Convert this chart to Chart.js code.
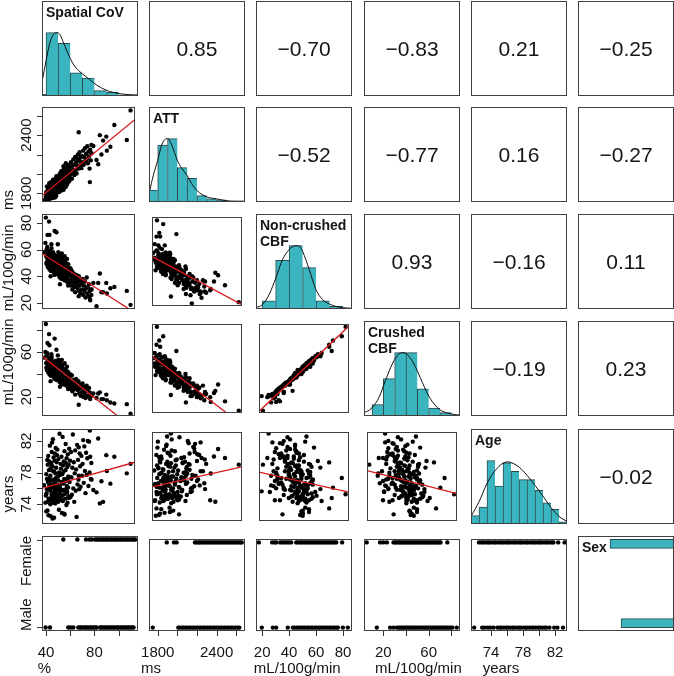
<!DOCTYPE html>
<html><head><meta charset="utf-8">
<script src="https://cdn.jsdelivr.net/npm/chart.js@4.4.1/dist/chart.umd.min.js"></script>
<style>
html,body{margin:0;padding:0;background:#fff;}
body{width:674px;height:676px;position:relative;overflow:hidden;}
canvas{position:absolute;}
</style>
</head><body>
<script>
// ---------- DATA ----------
const varNames = ['Spatial CoV','ATT','Non-crushed CBF','Crushed CBF','Age','Sex'];
const diagTitles = [['Spatial CoV'],['ATT'],['Non-crushed','CBF'],['Crushed','CBF'],['Age'],['Sex']];
const units = ['%','ms','mL/100g/min','mL/100g/min','years',''];
const axisMin = [36.7, 1711, 15.4, 2.9, 71.5, 0.96];
const axisMax = [116, 2690, 86.7, 87.7, 83.5, 2.04];
const tickValues = [[40,60,80,100],[1800,2000,2200,2400,2600],[20,40,60,80],[20,40,60,80],[74,76,78,80,82],[1,2]];
const tickLabels = [['40','','80',''],['1800','','','2400',''],['20','40','60','80'],['20','','60',''],['74','','78','','82'],['Male','Female']];

// per-subject values (%, ms, mL/100g/min, mL/100g/min, years)
const scov = [38.5,39.6,40.0,42.7,41.4,43.0,47.5,49.0,44.7,50.2,
40.3,40.6,40.9,41.2,41.5,41.8,42.0,42.3,42.6,42.9,
43.1,43.4,43.6,43.9,44.1,44.3,44.6,44.8,45.0,45.2,
45.4,45.6,45.8,46.0,46.2,46.4,46.6,46.8,47.0,47.2,
47.4,47.6,47.8,48.0,48.2,48.4,48.6,48.8,49.0,49.2,
49.4,49.6,49.8,40.4,41.0,41.6,42.2,42.8,43.3,43.8,
44.4,44.9,45.3,45.7,46.1,46.5,47.1,47.5,48.1,48.5,
49.1,49.5,49.9,44.0,50.1,50.3,50.5,50.7,50.9,51.1,
51.3,51.5,51.7,51.9,52.1,52.3,52.5,52.7,52.9,53.1,
53.3,53.5,53.7,53.9,54.1,54.3,54.5,54.7,54.9,55.1,
55.3,55.5,55.7,55.9,56.1,56.3,56.5,56.7,56.9,57.1,
57.3,57.5,57.7,57.9,58.1,58.3,58.5,58.7,58.9,59.1,
59.3,59.5,59.7,59.9,50.6,52.0,53.6,55.0,56.0,57.0,
58.0,59.0,60.2,60.6,61.0,61.4,61.8,62.2,62.6,63.0,
63.4,63.8,64.2,64.6,65.0,65.4,65.8,66.2,66.6,67.0,
67.4,67.8,68.4,68.8,69.2,69.6,68.0,68.0,70.3,70.8,
71.3,71.8,72.3,72.8,73.3,73.8,74.3,74.8,75.3,75.8,
76.3,76.8,77.3,77.8,78.3,78.8,77.5,79.0,88.8,86.0,
83.2,80.5,84.6,87.4,98.4,92.0,91.5,95.0,109.0,112.2];
const att = [1725,1740,1765,1833,1760,1800,1790,1976,1780,1850,
1812,1760,1870,1795,1745,1830,1790,1858,1735,1905,
1812,1770,1842,1880,1798,1750,1865,1820,1895,1762,
1838,1910,1802,1775,1860,1925,1815,1848,1788,1892,
1830,1758,1870,1945,1805,1842,1900,1780,1862,1918,
1825,1885,1960,1790,1822,1765,1848,1780,1835,1795,
1915,1788,1870,1752,1940,1833,1808,1878,1852,1768,
1935,1810,1890,1860,1880,1925,1842,1968,1860,1902,
1815,1990,1875,1930,1848,2010,1895,1955,1828,1918,
2030,1870,1942,1985,1860,1925,2005,1890,1960,1838,
2045,1915,1975,1880,1948,2020,1902,1995,1865,1938,
2060,1920,1980,1890,2035,1955,2075,1912,2002,1940,
2090,1970,2025,1925,1905,1960,1885,2080,1905,2110,
1930,2055,1965,2070,1995,2120,2030,1950,2085,2010,
2150,2045,1990,2095,2175,2040,2120,2005,2160,2080,
2200,2055,2135,2225,2090,2170,2430,2080,2060,2185,
2120,2240,2095,2170,2265,2130,2205,2150,2285,2110,
2230,2180,2055,2250,2140,2300,1916,2213,2344,2400,
2144,2288,2100,2200,2505,2240,2385,2280,2350,2655];
const ncbf = [58,65,84,81,71,71,74,73,64,64,
55,60,49,62,52,57,48,58,54,53,
45,59,51,56,50,44,55,61,47,53,
49,57,46,52,58,50,43,54,48,56,
41,51,47,53,55,44,50,46,52,42,
49,55,45,50,54,47,50,56,48,53,
46,57,44,50,49,52,45,51,47,53,
48,43,51,40,50,44,55,47,41,52,
48,45,53,39,49,46,56,42,47,51,
38,45,50,43,54,40,48,44,52,46,
41,49,37,45,51,43,47,39,44,50,
42,46,36,48,44,40,47,38,43,49,
35,45,41,37,58,34,57,45,55,39,
53,33,42,36,46,33,40,44,30,38,
35,42,32,39,28,36,41,34,38,31,
36,40,29,33,37,27,40,25,35,30,
38,26,33,29,36,24,31,39,27,32,
25,34,29,22,30,26,23,30,28,42,
17.5,35,35,28,32,27,35,31,29,18.5];
const ccbf = [55,60,85,76,68,66,72,62,58,57,
50,57,44,59,47,52,42,55,50,46,
40,53,47,49,45,39,52,56,43,48,
41,51,44,46,50,42,38,49,44,47,
36,48,40,45,52,37,43,42,47,35,
45,48,38,46,51,43,44,53,41,50,
39,54,41,47,40,49,39,46,43,50,
40,39,44,34,45,38,50,41,35,47,
43,37,49,33,44,40,51,36,42,45,
31,41,43,37,48,35,41,39,45,42,
34,43,31,40,44,36,41,33,39,44,
35,40,30,43,37,34,40,32,37,42,
29,38,35,32,53,29,53,37,50,33,
47,27,37,30,40,27,33,39,25,32,
30,35,27,33,22,31,36,28,31,26,
29,34,23,27,31,21,30,13,29,24,
32,20,27,23,29,19,25,30,21,27,
20,28,24,18,23,21,20,21,18,24,
19,23,23,18,14,17,22,15,13.5,5];
const age = [76.4,74.2,75.1,77.3,73.2,79.4,76.0,74.6,78.7,75.8,
73.1,75.4,77.2,79.6,74.3,76.8,80.1,74.7,78.3,76.2,
74.6,81.4,75.8,77.6,72.5,76.5,79.2,74.9,80.6,76.1,
74.4,78.8,75.3,82.2,77.1,74.8,79.9,76.3,72.3,78.1,
75.6,80.4,76.7,74.1,77.9,81.1,75.1,78.6,74.5,79.3,
76.0,77.4,80.9,77.8,75.9,79.0,72.6,76.6,78.4,74.0,
77.0,75.2,81.8,72.2,78.2,74.2,76.9,79.5,75.5,77.3,
74.7,80.2,76.4,75.7,75.0,77.5,74.3,79.7,76.2,73.3,
78.0,75.4,82.9,74.6,77.7,76.0,79.1,74.9,78.5,75.7,
80.0,76.8,72.9,77.8,75.1,82.5,74.4,78.9,76.6,75.8,
79.4,72.8,77.2,80.7,75.3,76.9,74.7,78.3,81.6,75.9,
77.0,73.9,79.8,76.3,75.5,78.7,74.2,80.3,76.1,77.5,
75.0,79.0,74.8,81.0,77.0,76.4,74.5,78.1,72.7,79.2,
75.6,77.3,76.8,79.5,74.9,80.6,77.4,75.2,78.6,82.8,
76.0,79.3,74.3,77.9,80.8,75.7,78.4,72.4,81.5,76.5,
79.6,77.1,75.9,80.4,78.8,76.2,81.2,77.6,80.1,77.6,
79.1,82.1,76.7,81.3,78.2,75.4,80.5,77.7,79.8,82.0,
76.3,81.9,78.0,80.0,77.2,79.2,83.3,77.1,74.3,74.1,
75.5,75.8,82.3,76.9,80.0,78.2,80.2,76.6,77.9,79.1];

// values shown in the Sex row (Female = 2, Male = 1)
const femaleScov = [54.3,65.9,73.1,75.8,77.8,80.5,81.9,83.0,84.6,86.1,87.3,88.9,90.2,91.4,93.1,94.2,95.8,97.3,98.5,100.0,101.6,102.7,104.3,105.6,107.2,108.4,110.1,111.3,112.6,113.7];
const maleScov = [39.7,43.3,58.4,60.4,62.6,66.7,68.1,69.3,70.8,72.4,73.5,75.0,76.6,77.7,79.3,80.5,81.8,84.7,85.9,87.4,88.7,90.3,91.4,93.0,94.3,95.8,97.0,98.7,99.8,101.4,102.7,104.2,105.4,107.0,108.2,109.8,111.0,112.3];
const femaleAtt = [1892,1966,1993,2180,2196,2217,2231,2252,2266,2288,2303,2324,2338,2359,2374,2395,2409,2432,2446,2467,2481,2503,2517,2538,2553,2574,2588,2609,2623,2644,2657];
const maleAtt = [1749,2010,2024,2046,2061,2083,2097,2118,2133,2154,2168,2189,2204,2225,2239,2261,2275,2296,2311,2332,2346,2368,2382,2403,2418,2439,2453,2475,2489,2510,2525,2546,2560,2582,2596,2617,2632];
const femaleNcbf = [17.5,27.4,29.3,30.4,33.4,34.9,36.6,38.4,39.9,41.5,45.3,46.5,48.2,49.3,50.8,52.0,53.5,54.7,56.1,57.4,58.8,60.2,61.6,62.9,64.3,65.5,67.1,68.2,69.7,71.1,72.4,73.8,75.0,79.4];
const maleNcbf = [19.7,27.9,30.4,39.0,42.8,44.0,45.7,46.8,48.4,49.6,51.1,52.2,53.8,54.9,56.5,57.6,59.2,60.3,61.9,63.1,64.6,65.8,67.3,68.5,70.0,71.2,72.7,73.9,75.3,76.2,79.9,83.6];
const femaleCcbf = [5.3,17.1,19.9,23.1,29.0,30.5,31.8,33.4,34.6,36.2,37.4,38.9,40.2,41.7,43.0,44.6,45.7,47.4,48.5,50.2,51.3,53.0,54.1,55.8,56.9,58.6,59.7,61.4,62.5,64.2,65.3,67.0,68.1,69.6,70.5,76.5];
const maleCcbf = [14.2,26.0,29.0,32.0,33.5,34.8,36.3,37.6,39.1,40.4,41.9,43.2,44.7,46.0,47.5,48.8,50.3,51.6,53.1,54.4,55.9,57.2,58.7,60.0,61.5,62.8,64.3,65.6,67.1,68.4,69.9,71.2,72.7,74.0,75.5,76.8,78.3,79.5,81.0,84.8];
const femaleAge = [72.5,72.8,73.0,73.3,73.6,73.8,74.1,74.4,74.6,74.9,75.2,75.4,75.7,76.0,76.2,76.5,76.8,77.0,77.3,77.6,77.8,78.1,78.4,78.6,78.9,79.2,79.4,79.7,80.0,80.2,80.5,80.8,81.0,81.3,81.6,81.8,82.4,83.2];
const maleAge = [71.9,72.9,73.2,73.6,73.9,74.3,74.8,75.1,75.3,75.6,75.9,76.1,76.4,76.7,76.9,77.2,77.5,77.7,78.0,78.3,78.5,78.8,79.1,79.3,79.6,79.9,80.1,80.4,80.7,80.9,81.3,81.9,82.3,83.0];

// histograms (bin start, bin width, counts) and density curves
const histStart = [30, 1700, 10, 10, 71.5];
const histWidth = [10, 100, 10, 10, 1];
const histScov = [2,71,59,26,20,6,4,1,1];
const histAtt = [11,53,59,32,22,6,3,2,1,1];
const histNcbf = [1,9,53,69,45,9,3,1];
const histCcbf = [10,33,56,56,24,7,3,1];
const histAge = [4,8,30,18,29,25,21,21,16,10,7,1];
const curveScovX = [36.7,40,43.3,46.5,49,51.5,54.5,58,62,66,70,76,82,90,100,110,116];
const curveScovY = [15.6,39.1,60.4,69.6,71,68.9,59.6,48.3,36.9,29.8,24.9,18.5,12.1,6.4,2.8,1.4,1.1];
const curveAttX = [1714,1755,1800,1840,1881,1902,1943,2000,2045,2099,2146,2201,2300,2398,2496,2595,2690];
const curveAttY = [8.9,24.8,38.9,53.1,58.7,59,53.1,38.9,31.3,24.8,17.1,10.6,4.7,3,1.2,0.6,0.6];
const curveNcbfX = [15.3,20.2,25.2,30.1,35.1,40.1,45,47.5,50,55,59.8,64.8,69.8,74.7,79.7,86.7];
const curveNcbfY = [1.4,4.8,15.9,33.8,53.8,64.9,69,68.3,62.8,42.8,21.4,10.4,5.5,2.8,1.4,0.7];
const curveCcbfX = [2,10,16,21.9,27.8,33.8,37.3,41.2,47.1,53,59,64.9,70.8,78.3,87.7];
const curveCcbfY = [2.2,7.3,16.2,31.4,45.9,54.9,56,54.3,45.9,33,19.6,10.6,5,2.2,0.6];
const curveAgeX = [71.5,72.5,73.5,74.5,75.5,76,76.5,77.5,78.5,79.5,80.5,81.5,82.5,83.5];
const curveAgeY = [3.6,10.5,19.2,25.2,28.8,29.4,29.1,27,23.1,18.3,13.2,7.8,3.6,1.2];
const sexLevels = [1.05, 1.95];   // Male, Female bins
const sexCounts = [86, 104];

// correlations (upper panels), by row
const corrValues = [[0.85,-0.70,-0.83,0.21,-0.25],[-0.52,-0.77,0.16,-0.27],[0.93,-0.16,0.11],[-0.19,0.23],[-0.02]];

// fitted lines: row, col, x0, y0, x1, y1
const fitLines = [
 [1,0,36.7,1775,116,2562],
 [2,0,36.7,57,116,12.6],
 [3,0,36.7,56.4,116,-9.4],
 [4,0,36.7,76.0,116,79.3],
 [2,1,1711,55.1,2690,16.5],
 [3,1,1711,57.1,2690,-8.2],
 [4,1,1711,76.1,2690,78.8],
 [3,2,15.4,4.4,86.7,85.8],
 [4,2,15.4,78.1,86.7,75.4],
 [4,3,2.9,78.3,87.7,75.2]
];

// ---------- RENDERING ----------
const vars = [scov, att, ncbf, ccbf, age];
const femaleRow = [femaleScov, femaleAtt, femaleNcbf, femaleCcbf, femaleAge];
const maleRow = [maleScov, maleAtt, maleNcbf, maleCcbf, maleAge];
const hists = [histScov, histAtt, histNcbf, histCcbf, histAge];
const curvesX = [curveScovX, curveAttX, curveNcbfX, curveCcbfX, curveAgeX];
const curvesY = [curveScovY, curveAttY, curveNcbfY, curveCcbfY, curveAgeY];

const PX = [42,149,256,364,471,578], PY = [1,107,214,321,429,536], PW = 96, PH = 95;
const FONT = '"Liberation Sans", Arial, Helvetica, sans-serif';
const TEAL = '#3ab4bf', EDGE = '#2b4a4d', RED = '#d7191c', INK = '#151515';

function fmt(v){ return (v < 0 ? '\u2212' : '') + Math.abs(v).toFixed(2); }

Chart.register({
  id: 'panel',
  afterDraw(chart, args, o) {
    const ctx = chart.ctx, a = chart.chartArea;
    const L = Math.round(a.left), T = Math.round(a.top), R = Math.round(a.right), B = Math.round(a.bottom);
    ctx.save();
    ctx.fillStyle = INK;
    ctx.textBaseline = 'alphabetic';
    if (o.corr != null) {
      ctx.font = '21px ' + FONT;
      ctx.textAlign = 'center';
      ctx.fillText(o.corr, (L + R) / 2, (T + B) / 2 + 7.5);
    }
    if (o.diag != null) {
      ctx.font = 'bold 14px ' + FONT;
      ctx.textAlign = 'left';
      diagTitles[o.diag].forEach((t, k) => ctx.fillText(t, L + 4, T + 16 + k * 16));
    }
    ctx.strokeStyle = '#404040'; ctx.lineWidth = 1;
    ctx.strokeRect(L + 0.5, T + 0.5, R - L - 1, B - T - 1);
    ctx.font = '15px ' + FONT;
    ctx.strokeStyle = '#333';
    if (o.xAxis != null) {
      const k = o.xAxis, s = chart.scales.x, vals = tickValues[k], labs = tickLabels[k];
      ctx.beginPath();
      vals.forEach(v => { const p = Math.round(s.getPixelForValue(v)) + 0.5; ctx.moveTo(p, B); ctx.lineTo(p, B + 5); });
      ctx.stroke();
      ctx.textAlign = 'center';
      let first = null;
      vals.forEach((v, n) => {
        if (!labs[n]) return;
        const p = s.getPixelForValue(v);
        ctx.fillText(labs[n], p, B + 25.5);
        if (first === null) first = p - ctx.measureText(labs[n]).width / 2;
      });
      if (units[k]) { ctx.textAlign = 'left'; ctx.fillText(units[k], first, B + 42); }
    }
    if (o.yAxis != null) {
      const k = o.yAxis, s = chart.scales.y, vals = tickValues[k], labs = tickLabels[k];
      ctx.beginPath();
      vals.forEach(v => { const p = Math.round(s.getPixelForValue(v)) + 0.5; ctx.moveTo(L - 5, p); ctx.lineTo(L, p); });
      ctx.stroke();
      let first = null;
      vals.forEach((v, n) => {
        if (!labs[n]) return;
        let p = s.getPixelForValue(v), align = 'center';
        if (k === 5) { if (v === 1) { p = B; align = 'left'; } else { p = T; align = 'right'; } }
        ctx.save(); ctx.translate(L - 11, p); ctx.rotate(-Math.PI / 2);
        ctx.textAlign = align; ctx.fillText(labs[n], 0, 0); ctx.restore();
        if (first === null) first = p + ctx.measureText(labs[n]).width / 2;
      });
      if (units[k]) {
        ctx.save(); ctx.translate(L - 29.5, first); ctx.rotate(-Math.PI / 2);
        ctx.textAlign = 'left'; ctx.fillText(units[k], 0, 0); ctx.restore();
      }
    }
    ctx.restore();
  }
});

function lin(min, max, extra) {
  return Object.assign({
    type: 'linear', display: false, min: min, max: max, offset: false,
    afterBuildTicks: s => { s.ticks = [{ value: min }, { value: max }]; }
  }, extra || {});
}

function makePanel(i, j) {
  const pad = {
    left: j === 0 ? 42 : (i === 5 ? 14 : 1),
    right: i === 5 ? 14 : 1,
    top: (j === 0 && i > 0) ? 14 : 1,
    bottom: i === 5 ? 45 : (j === 0 ? 14 : 1)
  };
  const c = document.createElement('canvas');
  const w = PW + pad.left + pad.right, h = PH + pad.top + pad.bottom;
  c.width = w; c.height = h;
  c.style.left = (PX[j] - pad.left) + 'px';
  c.style.top = (PY[i] - pad.top) + 'px';
  c.style.width = w + 'px'; c.style.height = h + 'px';
  document.body.appendChild(c);

  const panelOpts = {};
  if (i === 5 && j < 5) panelOpts.xAxis = j;
  if (j === 0 && i > 0) panelOpts.yAxis = i;

  let type = 'scatter', datasets = [], scales, extraOpts = {};
  if (i < j) {
    panelOpts.corr = fmt(corrValues[i][j - i - 1]);
    scales = { x: lin(0, 1), y: lin(0, 1) };
  } else if (i === j && i < 5) {
    panelOpts.diag = i;
    const counts = hists[i];
    const maxC = Math.max.apply(null, counts);
    type = 'bar';
    datasets = [
      {
        type: 'line', order: 0, clip: 0,
        data: curvesX[i].map((x, n) => ({ x: x, y: curvesY[i][n] })),
        borderColor: '#111', borderWidth: 1, pointRadius: 0, fill: false,
        cubicInterpolationMode: 'monotone'
      },
      {
        type: 'bar', order: 1, clip: 0,
        data: counts.map((cnt, n) => ({ x: histStart[i] + histWidth[i] * (n + 0.5), y: cnt })),
        backgroundColor: TEAL, borderColor: EDGE,
        borderWidth: ctx => ({ left: 1, top: 1, bottom: 0, right: ctx.dataIndex === counts.length - 1 ? 1 : 0 }),
        borderSkipped: false, barPercentage: 1, categoryPercentage: 1
      }
    ];
    scales = { x: lin(axisMin[i], axisMax[i]), y: lin(0, 1.5 * maxC) };
  } else if (i === 5 && j === 5) {
    panelOpts.diag = 5;
    type = 'bar';
    extraOpts.indexAxis = 'y';
    datasets = [{
      data: sexLevels.map((lv, n) => ({ y: lv, x: sexCounts[n] })),
      backgroundColor: TEAL, borderColor: EDGE, borderWidth: 1, borderSkipped: false,
      barThickness: 9, clip: 0
    }];
    scales = { y: lin(axisMin[5], axisMax[5]), x: lin(0, 1.5 * Math.max.apply(null, sexCounts), { reverse: true }) };
  } else if (i === 5) {
    datasets = [{
      data: femaleRow[j].map(v => ({ x: v, y: 2 })).concat(maleRow[j].map(v => ({ x: v, y: 1 }))),
      pointRadius: 2.2, pointBackgroundColor: '#000', pointBorderWidth: 0, borderWidth: 0
    }];
    scales = { x: lin(axisMin[j], axisMax[j]), y: lin(axisMin[5], axisMax[5]) };
  } else {
    const xs = vars[j], ys = vars[i];
    const fl = fitLines.find(f => f[0] === i && f[1] === j);
    datasets = [
      {
        type: 'line', order: 0, clip: 0,
        data: [{ x: fl[2], y: fl[3] }, { x: fl[4], y: fl[5] }],
        borderColor: RED, borderWidth: 1.3, pointRadius: 0, fill: false, showLine: true
      },
      {
        type: 'scatter', order: 1,
        data: xs.map((v, n) => ({ x: v, y: ys[n] })),
        pointRadius: 2.2, pointBackgroundColor: '#000', pointBorderWidth: 0, borderWidth: 0
      }
    ];
    scales = { x: lin(axisMin[j], axisMax[j]), y: lin(axisMin[i], axisMax[i]) };
  }

  new Chart(c, {
    type: type,
    data: { datasets: datasets },
    options: Object.assign({
      responsive: false, animation: false, devicePixelRatio: 1, events: [],
      layout: { padding: pad },
      scales: scales,
      plugins: { legend: { display: false }, tooltip: { enabled: false }, title: { display: false }, panel: panelOpts }
    }, extraOpts)
  });
}

for (let i = 0; i < 6; i++) for (let j = 0; j < 6; j++) makePanel(i, j);
</script>
</body></html>
